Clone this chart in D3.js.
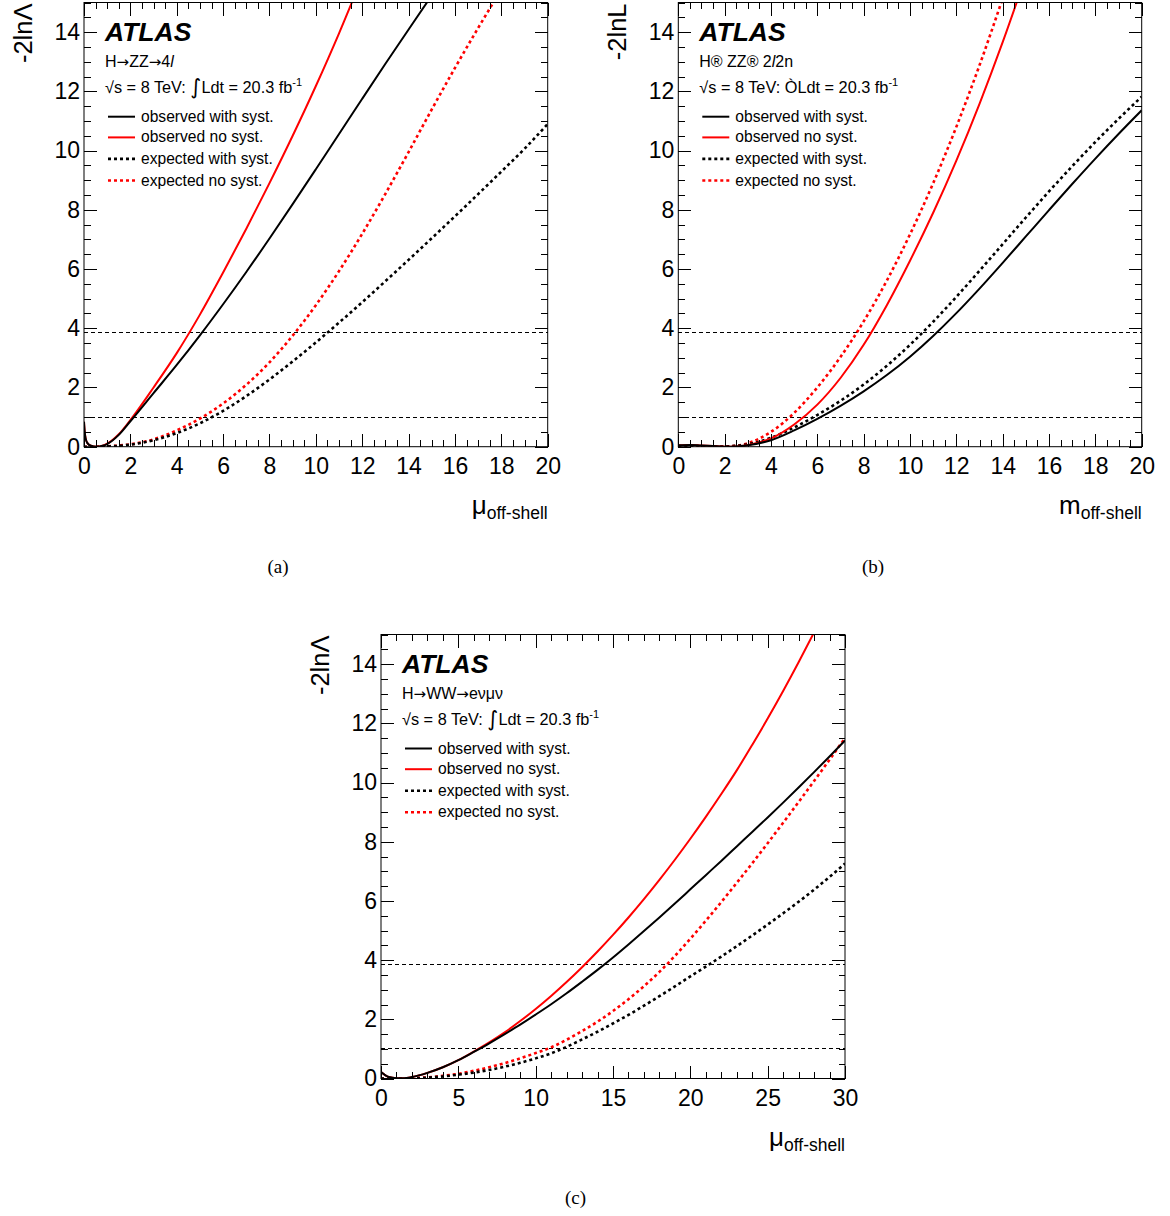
<!DOCTYPE html>
<html><head><meta charset="utf-8">
<script src="https://cdn.jsdelivr.net/npm/d3@7"></script>
<style>body{margin:0;background:#fff}</style>
</head><body>
<svg id="c" width="1170" height="1216" xmlns="http://www.w3.org/2000/svg"></svg>
<script>
// ---------------- DATA ----------------
const legendLabels = ["observed with syst.", "observed no syst.", "expected with syst.", "expected no syst."];
const yTicks = [0, 2, 4, 6, 8, 10, 12, 14];
const refLevels = [1, 3.84];

// panel (a) H->ZZ->4l
const muA = [0, 0.03, 0.07, 0.15, 0.3, 0.55, 0.8, 1, 1.5, 2, 3, 4, 5, 6, 7, 8, 9, 10, 11, 12, 13, 14, 15, 16, 17, 18, 19, 20];
const aObsSyst   = [0.84, 0.5, 0.28, 0.12, 0.03, 0, 0.03, 0.09, 0.4, 0.86, 1.81, 2.76, 3.76, 4.81, 5.9, 7.03, 8.19, 9.37, 10.56, 11.75, 12.93, 14.09, 15.24];
const aObsNoSyst = [0.84, 0.5, 0.28, 0.12, 0.03, 0, 0.03, 0.1, 0.42, 0.9, 2.0, 3.16, 4.46, 5.88, 7.36, 8.9, 10.5, 12.18, 13.96, 15.86];
const aExpSyst   = [0, 0, 0, 0, 0, 0, 0, 0.01, 0.03, 0.07, 0.22, 0.46, 0.79, 1.21, 1.71, 2.27, 2.88, 3.52, 4.19, 4.88, 5.59, 6.31, 7.04, 7.78, 8.53, 9.29, 10.06, 10.9];
const aExpNoSyst = [0, 0, 0, 0, 0, 0, 0, 0.01, 0.04, 0.08, 0.25, 0.55, 0.95, 1.46, 2.09, 2.85, 3.75, 4.78, 5.93, 7.19, 8.54, 9.95, 11.39, 12.79, 14.14, 15.44];

// panel (b) H->ZZ->2l2nu
const muB = [0, 0.5, 1, 1.5, 2, 2.5, 3, 4, 5, 6, 7, 8, 9, 10, 11, 12, 13, 14, 15, 16, 17, 18, 19, 20];
const bObsSyst   = [0.05, 0.06, 0.04, 0.02, 0, 0.01, 0.05, 0.22, 0.55, 0.94, 1.38, 1.87, 2.42, 3.04, 3.74, 4.51, 5.34, 6.21, 7.1, 7.99, 8.87, 9.73, 10.56, 11.36];
const bObsNoSyst = [0.05, 0.06, 0.04, 0.02, 0, 0.01, 0.06, 0.28, 0.75, 1.42, 2.32, 3.44, 4.78, 6.28, 7.9, 9.66, 11.58, 13.66, 15.9];
const bExpSyst   = [0, 0, 0, 0, 0.01, 0.03, 0.08, 0.3, 0.65, 1.07, 1.55, 2.1, 2.73, 3.44, 4.22, 5.06, 5.94, 6.84, 7.74, 8.62, 9.47, 10.29, 11.07, 11.82];
const bExpNoSyst = [0, 0, 0, 0, 0.01, 0.03, 0.12, 0.5, 1.14, 2.0, 3.03, 4.23, 5.61, 7.17, 8.9, 10.8, 12.88, 15.14];

// panel (c) H->WW->evmuv
const muC = [0, 0.5, 1, 1.5, 2, 3, 4, 5, 6, 7, 8, 9, 10, 11, 12, 13, 14, 15, 16, 17, 18, 19, 20, 21, 22, 23, 24, 25, 26, 27, 28, 29, 30];
const cObsSyst   = [0.22, 0.05, 0.01, 0.01, 0.05, 0.19, 0.38, 0.62, 0.9, 1.19, 1.5, 1.82, 2.16, 2.51, 2.88, 3.27, 3.67, 4.09, 4.53, 4.98, 5.44, 5.91, 6.39, 6.87, 7.35, 7.84, 8.33, 8.82, 9.32, 9.83, 10.35, 10.88, 11.42];
const cObsNoSyst = [0.22, 0.05, 0.01, 0.01, 0.05, 0.19, 0.38, 0.62, 0.91, 1.22, 1.56, 1.94, 2.35, 2.79, 3.26, 3.76, 4.29, 4.85, 5.44, 6.06, 6.71, 7.39, 8.1, 8.84, 9.61, 10.41, 11.27, 12.16, 13.09, 14.06, 15.07];
const cExpSyst   = [0, 0, 0, 0, 0.01, 0.03, 0.07, 0.13, 0.2, 0.29, 0.4, 0.53, 0.68, 0.85, 1.07, 1.32, 1.58, 1.86, 2.15, 2.46, 2.78, 3.11, 3.45, 3.78, 4.12, 4.47, 4.83, 5.2, 5.58, 5.97, 6.38, 6.81, 7.26];
const cExpNoSyst = [0, 0, 0, 0, 0.01, 0.04, 0.09, 0.16, 0.26, 0.38, 0.52, 0.68, 0.86, 1.05, 1.31, 1.6, 1.92, 2.28, 2.68, 3.12, 3.6, 4.14, 4.72, 5.33, 5.96, 6.61, 7.27, 7.95, 8.64, 9.34, 10.05, 10.77, 11.5];

// ---------------- DRAWING ----------------
const svg = d3.select("#c");
const SANS = "'Liberation Sans', Arial, Helvetica, sans-serif";
const SERIF = "'Liberation Serif', 'Times New Roman', serif";
const ARROWF = "'DejaVu Sans', 'Liberation Sans', sans-serif";
svg.append("rect").attr("width", 1170).attr("height", 1216).attr("fill", "#fff");

function panel(cfg) {
  const g = svg.append("g");
  const x = d3.scaleLinear().domain([0, cfg.xMax]).range([cfg.left, cfg.right]);
  const y = d3.scaleLinear().domain([0, 15]).range([cfg.bottom, cfg.top]);
  const cid = "clip" + cfg.id;
  svg.append("clipPath").attr("id", cid).append("rect")
    .attr("x", cfg.left).attr("y", cfg.top)
    .attr("width", cfg.right - cfg.left).attr("height", cfg.bottom - cfg.top);

  // reference lines
  refLevels.forEach(v => g.append("line")
    .attr("x1", cfg.left).attr("x2", cfg.right).attr("y1", y(v)).attr("y2", y(v))
    .attr("stroke", "#000").attr("stroke-width", 1).attr("stroke-dasharray", "4,3")
    .attr("shape-rendering", "crispEdges"));

  // curves
  const line = d3.line().x(d => x(d[0])).y(d => y(d[1])).curve(d3.curveMonotoneX);
  const cg = g.append("g").attr("clip-path", `url(#${cid})`);
  const styles = [
    {color: "#000", dotted: false}, {color: "#ff0000", dotted: false},
    {color: "#000", dotted: true}, {color: "#ff0000", dotted: true}];
  const order = [3, 2, 1, 0];
  order.forEach(k => {
    const vals = cfg.series[k];
    const pts = vals.map((v, i) => [cfg.mu[i], v]);
    cg.append("path").attr("d", line(pts)).attr("fill", "none")
      .attr("stroke", styles[k].color)
      .attr("stroke-width", styles[k].dotted ? 2.6 : 2)
      .attr("stroke-dasharray", styles[k].dotted ? "3,3" : null);
  });

  // axes
  const majorX = d3.range(0, cfg.xMax + 1e-9, cfg.xMajor);
  const minorX = d3.range(0, cfg.xMax + 1e-9, cfg.xMinor).filter(v => !majorX.some(m => Math.abs(m - v) < 1e-6));
  const minorY = d3.range(0, 15 + 1e-9, 0.5).filter(v => !yTicks.some(m => Math.abs(m - v) < 1e-6));
  const styleAxis = sel => {
    sel.select(".domain").remove();
    sel.selectAll("line").attr("stroke", "#000").attr("stroke-width", 1).attr("shape-rendering", "crispEdges");
    sel.attr("font-family", SANS).attr("font-size", 23);
    sel.selectAll("text").attr("fill", "#000");
  };
  const B = `translate(0,${cfg.bottom})`, T = `translate(0,${cfg.top})`;
  const L = `translate(${cfg.left},0)`, R = `translate(${cfg.right},0)`;
  g.append("g").attr("transform", B).call(d3.axisBottom(x).tickValues(majorX).tickSize(-13).tickPadding(11).tickFormat(d3.format("d"))).call(styleAxis);
  g.append("g").attr("transform", B).call(d3.axisBottom(x).tickValues(minorX).tickSize(-6.5).tickFormat("")).call(styleAxis);
  g.append("g").attr("transform", T).call(d3.axisTop(x).tickValues(majorX).tickSize(-13).tickFormat("")).call(styleAxis);
  g.append("g").attr("transform", T).call(d3.axisTop(x).tickValues(minorX).tickSize(-6.5).tickFormat("")).call(styleAxis);
  g.append("g").attr("transform", L).call(d3.axisLeft(y).tickValues(yTicks).tickSize(-13).tickPadding(4).tickFormat(d3.format("d"))).call(styleAxis);
  g.append("g").attr("transform", L).call(d3.axisLeft(y).tickValues(minorY).tickSize(-6.5).tickFormat("")).call(styleAxis);
  g.append("g").attr("transform", R).call(d3.axisRight(y).tickValues(yTicks).tickSize(-13).tickFormat("")).call(styleAxis);
  g.append("g").attr("transform", R).call(d3.axisRight(y).tickValues(minorY).tickSize(-6.5).tickFormat("")).call(styleAxis);

  // frame
  g.append("rect").attr("x", cfg.left).attr("y", cfg.top)
    .attr("width", cfg.right - cfg.left).attr("height", cfg.bottom - cfg.top)
    .attr("fill", "none").attr("stroke", "#000").attr("stroke-width", 1);

  // y title
  g.append("text").attr("transform", `translate(${cfg.left - 52},${cfg.top + 1}) rotate(-90)`)
    .attr("text-anchor", "end").attr("font-family", SANS).attr("font-size", 25.5).text(cfg.yTitle);

  // x title
  const xt = g.append("text").attr("x", cfg.right).attr("y", cfg.bottom + 67)
    .attr("text-anchor", "end").attr("font-family", SANS);
  xt.append("tspan").attr("font-size", 26).text(cfg.xSym);
  xt.append("tspan").attr("font-size", 17.5).attr("dy", 5).text("off-shell");

  const lx = cfg.left, by = cfg.bottom;
  // ATLAS
  g.append("text").attr("x", lx + 21).attr("y", by - 406).attr("font-family", SANS)
    .attr("font-weight", "bold").attr("font-style", "italic").attr("font-size", 26.5).text("ATLAS");
  // channel
  const st = g.append("text").attr("x", lx + 21).attr("y", by - 380).attr("font-family", SANS).attr("font-size", 16);
  cfg.subtitle.forEach(p => st.append("tspan")
    .attr("font-style", p.it ? "italic" : null)
    .attr("font-family", p.arrow ? ARROWF : null)
    .attr("font-size", p.arrow ? 15 : null)
    .text(p.t));
  // lumi
  const lt = g.append("text").attr("x", lx + 21).attr("y", by - 353.5).attr("font-family", SANS).attr("font-size", 16.3);
  lt.append("tspan").text("\u221As = 8 TeV: ");
  if (cfg.intSym === "\u222B") {
    lt.append("tspan").attr("font-family", ARROWF).attr("font-size", 21).attr("dy", 1).text("\u222B");
    lt.append("tspan").attr("dy", -1).text("Ldt = 20.3 fb");
  } else {
    lt.append("tspan").text(cfg.intSym + "Ldt = 20.3 fb");
  }
  lt.append("tspan").attr("font-size", 11).attr("dy", -7).text("-1");

  // legend
  const rows = [330, 309.3, 287.8, 266.2];
  legendLabels.forEach((lab, k) => {
    const yy = by - rows[k];
    g.append("line").attr("x1", lx + 24).attr("x2", lx + 51).attr("y1", yy).attr("y2", yy)
      .attr("stroke", styles[k].color).attr("stroke-width", styles[k].dotted ? 2.6 : 2)
      .attr("stroke-dasharray", styles[k].dotted ? "3,3" : null);
    g.append("text").attr("x", lx + 57).attr("y", yy + 5).attr("font-family", SANS)
      .attr("font-size", 15.6).text(lab);
  });

  // caption
  g.append("text").attr("x", cfg.capX).attr("y", cfg.capY).attr("text-anchor", "middle")
    .attr("font-family", SERIF).attr("font-size", 19).text(cfg.caption);
}

panel({id: "a", left: 84, right: 547.7, top: 2.5, bottom: 446.7, xMax: 20, xMajor: 2, xMinor: 0.5,
  mu: muA, series: [aObsSyst, aObsNoSyst, aExpSyst, aExpNoSyst],
  yTitle: "-2ln\u039B", xSym: "\u03BC", intSym: "\u222B",
  subtitle: [{t: "H"}, {t: "\u2192", arrow: true}, {t: "ZZ"}, {t: "\u2192", arrow: true}, {t: "4"}, {t: "l", it: true}],
  caption: "(a)", capX: 278, capY: 573});

panel({id: "b", left: 678.3, right: 1141.7, top: 2.5, bottom: 446.7, xMax: 20, xMajor: 2, xMinor: 0.5,
  mu: muB, series: [bObsSyst, bObsNoSyst, bExpSyst, bExpNoSyst],
  yTitle: "-2lnL", xSym: "m", intSym: "\u00D2",
  subtitle: [{t: "H\u00AE ZZ\u00AE 2"}, {t: "l", it: true}, {t: "2n"}],
  caption: "(b)", capX: 873, capY: 573});

panel({id: "c", left: 381, right: 845, top: 634.5, bottom: 1078.5, xMax: 30, xMajor: 5, xMinor: 1,
  mu: muC, series: [cObsSyst, cObsNoSyst, cExpSyst, cExpNoSyst],
  yTitle: "-2ln\u039B", xSym: "\u03BC", intSym: "\u222B",
  subtitle: [{t: "H"}, {t: "\u2192", arrow: true}, {t: "WW"}, {t: "\u2192", arrow: true}, {t: "e\u03BD\u03BC\u03BD"}],
  caption: "(c)", capX: 575.5, capY: 1204});
</script>
</body></html>
